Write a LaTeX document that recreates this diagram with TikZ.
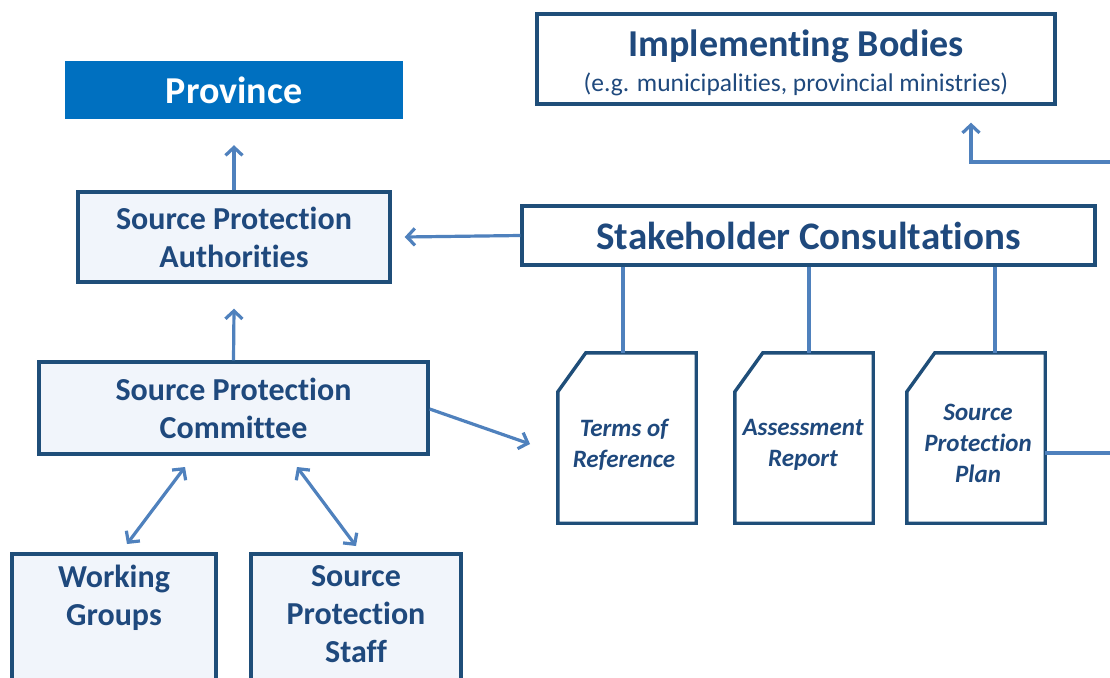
\documentclass[tikz,border=0pt]{standalone}
\usepackage{fontspec}
\setmainfont[RawFeature=-liga]{Carlito}
\usetikzlibrary{arrows.meta,calc}
\definecolor{navy}{HTML}{1F4E79}
\definecolor{inkblue}{HTML}{1F497D}
\definecolor{linkblue}{HTML}{4F81BD}
\definecolor{provblue}{HTML}{0070C0}
\definecolor{paleblue}{HTML}{F1F5FB}
\tikzset{
  x=1pt, y=-1pt,
  box/.style={draw=navy, line width=3.4pt, fill=paleblue, text=inkblue,
    font=\bfseries\fontsize{32}{38}\selectfont, align=center, inner sep=0pt},
  whitebox/.style={box, fill=white},
  docbody/.style={inner sep=0pt, minimum width=138pt, minimum height=170pt},
  doctext/.style={text=inkblue, font=\bfseries\itshape\fontsize{25}{31}\selectfont, align=center},
  docline/.style={draw=navy, line width=3.4pt, fill=white, line join=miter},
  link/.style={draw=linkblue, line width=3.2pt},
  arrow/.style={link, -{Straight Barb[length=8pt,width=17pt,line width=3.2pt]}},
  twoway/.style={link, {Straight Barb[length=8pt,width=17pt,line width=3.2pt]}-{Straight Barb[length=8pt,width=17pt,line width=3.2pt]}},
}
\begin{document}
\begin{tikzpicture}
\clip (0,0) rectangle (1110,677);
\fill[white] (0,0) rectangle (1110,677);

% upper tier
\node[fill=provblue, text=white, font=\bfseries\fontsize{38}{44}\selectfont,
      minimum width=338pt, minimum height=58pt, inner sep=0pt] (prov) at (234,90) {Province};
\node[box, minimum width=312pt, minimum height=90pt] (spa) at (234,237) {Source Protection\\Authorities};
\node[whitebox, minimum width=518pt, minimum height=90pt] (ib) at (796,59) {};
\node[text=inkblue, font=\bfseries\fontsize{38}{44}\selectfont] (ibtitle) at (796,46) {Implementing Bodies};
\node[text=inkblue, font=\fontsize{25.5}{30}\selectfont] (ibsub) at (796,84) {(e.g. municipalities, provincial ministries)};
\node[whitebox, font=\bfseries\fontsize{39}{44}\selectfont, minimum width=573pt, minimum height=59pt] (sc) at (808.5,235.5) {Stakeholder Consultations};

% committee tier
\node[box, minimum width=389pt, minimum height=92pt] (spc) at (233.5,408) {Source Protection\\Committee};
\node[box, minimum width=204pt, minimum height=150pt] (wg) at (114,629) {};
\node[text=inkblue, font=\bfseries\fontsize{32}{38}\selectfont, align=center, anchor=north] (wgt) at (114,562) {Working\\Groups};
\node[box, minimum width=210pt, minimum height=150pt] (sps) at (356,629) {};
\node[text=inkblue, font=\bfseries\fontsize{32}{38}\selectfont, align=center, anchor=north] (spst) at (356,562) {Source\\Protection\\Staff};

% documents with a clipped top-left corner
\foreach \name/\cx in {tor/627, ar/804, spp/976} {
  \node[docbody] (\name) at (\cx,438) {};
  \draw[docline] ($(\name.north west)+(0,39)$) -- ($(\name.north west)+(28,0)$)
    -- (\name.north east) -- (\name.south east) -- (\name.south west) -- cycle;
}
\node[doctext] (tort) at (624,445) {Terms of\\Reference};
\node[doctext] (art) at (803,445) {Assessment\\Report};
\node[doctext] (sppt) at (978,443) {Source\\Protection\\Plan};

% connectors
\draw[arrow] (spa.north) -- ([yshift=-26pt]prov.south);
\draw[arrow] (spc.north) -- ([yshift=-25pt]spa.south);
\draw[arrow] (sc.west) -- ([xshift=13pt]spa.east);
\draw[arrow] ([yshift=-1pt]spc.east) -- (530,444);
\coordinate (wgend) at (127,544);
\coordinate (wgstart) at (185,467);
\coordinate (spsend) at (356,546);
\coordinate (spsstart) at (297,467);
\draw[twoway] (wgstart) -- (wgend);
\draw[twoway] (spsstart) -- (spsend);
\draw[link] (sc.south -| 623,0) -- (tor.north -| 623,0);
\draw[link] (sc.south -| 809,0) -- (ar.north -| 809,0);
\draw[link] (sc.south -| 995,0) -- (spp.north -| 995,0);
\coordinate (rightedge) at (1112,453);
\draw[link] ([yshift=-15pt]spp.east) -- (rightedge);
\coordinate (ibfeed) at (1112,162);
\draw[arrow] (ibfeed) -| ([yshift=-17pt]ib.south -| 971,0);
\end{tikzpicture}
\end{document}
